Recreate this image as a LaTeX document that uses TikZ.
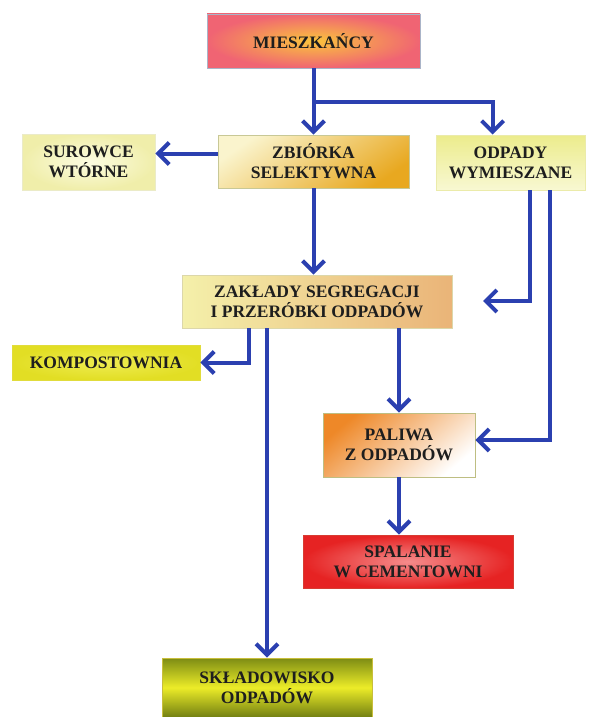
\documentclass[tikz,border=0pt]{standalone}
\usepackage{fontspec}
\setmainfont{Liberation Serif}
\usetikzlibrary{arrows.meta,calc}
\definecolor{arrblue}{HTML}{2B40B0}
\definecolor{txt}{HTML}{1E1E1E}
\definecolor{miesB}{RGB}{170,180,200}
\definecolor{miesI}{RGB}{250,196,60}
\definecolor{miesO}{RGB}{240,100,115}
\definecolor{surB}{RGB}{235,235,200}
\definecolor{surI}{RGB}{252,252,225}
\definecolor{surO}{RGB}{240,238,170}
\definecolor{zbiB}{RGB}{200,200,150}
\definecolor{zbiT}{RGB}{250,244,205}
\definecolor{zbiD}{RGB}{232,168,32}
\definecolor{odpB}{RGB}{235,235,170}
\definecolor{odpT}{RGB}{236,236,140}
\definecolor{odpD}{RGB}{248,248,210}
\definecolor{zakB}{RGB}{220,215,170}
\definecolor{zakL}{RGB}{244,240,170}
\definecolor{zakR}{RGB}{234,180,120}
\definecolor{komB}{RGB}{225,220,60}
\definecolor{komI}{RGB}{238,236,80}
\definecolor{komO}{RGB}{226,222,36}
\definecolor{palB}{RGB}{190,190,130}
\definecolor{palT}{RGB}{238,136,40}
\definecolor{spaB}{RGB}{215,60,50}
\definecolor{spaI}{RGB}{245,140,140}
\definecolor{spaO}{RGB}{230,35,35}
\definecolor{sklB}{RGB}{200,190,60}
\definecolor{sklT}{RGB}{125,140,20}
\definecolor{sklM}{RGB}{236,236,40}
\definecolor{sklD}{RGB}{115,128,18}
\begin{document}
\begin{tikzpicture}[x=1pt,y=-1pt,
  box/.style={rectangle, inner sep=0pt, line width=0.8pt, align=center,
    font=\fontsize{17.5}{20}\selectfont\bfseries, text=txt},
  arr/.style={draw=arrblue, line width=4pt, line join=miter,
    -{Straight Barb[length=11pt,width=22pt]}}]
\useasboundingbox[fill=white] (0,0) rectangle (596,717);

\node[box, draw=miesB, minimum width=213pt, minimum height=54pt,
  inner color=miesI, outer color=miesO]
  (mies) at (313.5,41) {MIESZKAŃCY};

\node[box, draw=surB, minimum width=133pt, minimum height=56pt,
  inner color=surI, outer color=surO]
  (sur) at (88.5,162) {SUROWCE\\WTÓRNE};

\node[box, draw=zbiB, minimum width=191pt, minimum height=53pt,
  top color=zbiT, bottom color=zbiD, shading angle=35]
  (zbi) at (313.5,161.5) {ZBIÓRKA\\SELEKTYWNA};

\node[box, draw=odpB, minimum width=149pt, minimum height=55pt,
  top color=odpT, bottom color=odpD]
  (odp) at (510.5,162.5) {ODPADY\\WYMIESZANE};

\node[box, draw=zakB, minimum width=270pt, minimum height=53pt,
  left color=zakL, right color=zakR]
  (zak) at (317,301.5) {ZAKŁADY SEGREGACJI\\I PRZERÓBKI ODPADÓW};

\node[box, draw=komB, minimum width=188pt, minimum height=35pt,
  inner color=komI, outer color=komO]
  (kom) at (106,362.5) {KOMPOSTOWNIA};

\node[box, draw=palB, minimum width=152pt, minimum height=64pt,
  top color=palT, bottom color=white, shading angle=40]
  (pal) at (399,445) {PALIWA\\Z ODPADÓW};

\node[box, draw=spaB, minimum width=210pt, minimum height=53pt,
  inner color=spaI, outer color=spaO]
  (spa) at (408,561.5) {SPALANIE\\W CEMENTOWNI};

\node[box, draw=sklB, minimum width=210pt, minimum height=59pt,
  top color=sklT, bottom color=sklD, middle color=sklM]
  (skl) at (267,687.5) {SKŁADOWISKO\\ODPADÓW};

\coordinate (zakin) at (483,301);

% connectors
\draw[arr] (mies.south) -- (zbi.north);
\draw[arr] ($(mies.south)+(0,34)$) -| ($(odp.north west)+(57,0)$);
\draw[arr] ([yshift=8pt]zbi.west) -- ([yshift=8pt]zbi.west -| sur.east);
\draw[arr] (zbi.south) -- (zbi.south |- zak.north);
\draw[arr] ($(odp.south)+(19.5,0)$) |- (zakin);
\draw[arr] ($(odp.south)+(39.5,0)$) |- ([yshift=5pt]pal.east);
\draw[arr] ($(zak.south west)+(67,0)$) |- (kom.east);
\draw[arr] (zak.south -| skl.north) -- (skl.north);
\draw[arr] (zak.south -| pal.north) -- (pal.north);
\draw[arr] (pal.south) -- (pal.south |- spa.north);
\end{tikzpicture}
\end{document}
